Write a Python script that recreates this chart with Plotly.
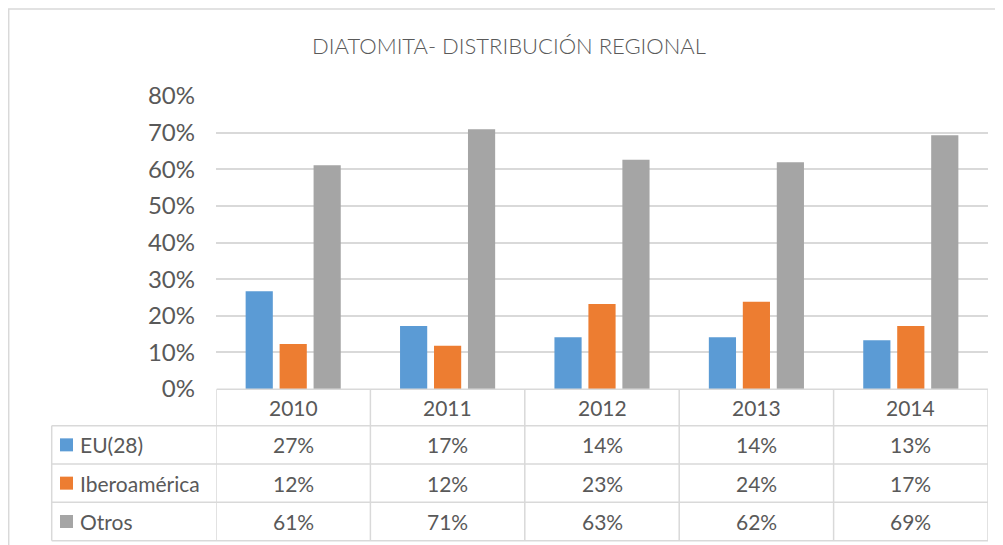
import plotly.graph_objects as go

YEARS = ["2010", "2011", "2012", "2013", "2014"]
SERIES = ["EU(28)", "Iberoamérica", "Otros"]
EU = [0.267, 0.172, 0.141, 0.141, 0.133]
IBERO = [0.123, 0.118, 0.232, 0.238, 0.172]
OTROS = [0.611, 0.709, 0.626, 0.619, 0.693]
COLORS = ["#5B9BD5", "#ED7D31", "#A5A5A5"]
Y_TICKS = [0, 0.1, 0.2, 0.3, 0.4, 0.5, 0.6, 0.7, 0.8]

TEXT = "#595959"
GRID = "#D9D9D9"
FONT = "Lato, 'Open Sans', sans-serif"

# the page body adds an 8px margin, so page coordinates are shifted by OFF
OFF = 8
W, H = 1003, 545
L, R, T, B = 216 - OFF, W - (988 - OFF), 96 - OFF, H - (389 - OFF)
PW, PH = W - L - R, H - T - B


def px(x):
    return (x - OFF - L) / PW


def py(y):
    return (H - B - (y - OFF)) / PH


fig = go.Figure()
for name, vals, col in zip(SERIES, [EU, IBERO, OTROS], COLORS):
    fig.add_trace(go.Bar(x=list(range(len(YEARS))), y=vals, name=name,
                         marker=dict(color=col, line=dict(width=0))))

# data table under the chart
row_tops = [389.3, 425.7, 464.0, 502.3, 540.7]
shapes = []
line = dict(color=GRID, width=1.5)
for i, yy in enumerate(row_tops):
    x0 = px(216.7) if i == 0 else px(51.7)
    shapes.append(dict(type="line", xref="paper", yref="paper",
                       x0=x0, x1=1, y0=py(yy), y1=py(yy), line=line))
shapes.append(dict(type="line", xref="paper", yref="paper", x0=px(51.7), x1=px(51.7),
                   y0=py(row_tops[1]), y1=py(row_tops[-1]), line=line))
for k in range(len(YEARS) + 1):
    shapes.append(dict(type="line", xref="x", yref="paper", x0=k - 0.5, x1=k - 0.5,
                       y0=py(row_tops[0]), y1=py(row_tops[-1]), line=line))
# outer chart border
shapes.append(dict(type="rect", xref="paper", yref="paper", x0=px(8.7), x1=px(1001),
                   y0=py(9), y1=py(570), line=dict(color=GRID, width=1.5)))

cell_font = dict(size=21, color=TEXT, family=FONT)
annotations = []
for k, yr in enumerate(YEARS):
    annotations.append(dict(x=k, xref="x", y=py((row_tops[0] + row_tops[1]) / 2), yref="paper",
                            xanchor="center", yanchor="middle",
                            text=yr, showarrow=False, font=cell_font))
for r, (name, vals, col) in enumerate(zip(SERIES, [EU, IBERO, OTROS], COLORS)):
    yc = (row_tops[r + 1] + row_tops[r + 2]) / 2
    shapes.append(dict(type="rect", xref="paper", yref="paper", x0=px(60), x1=px(73),
                       y0=py(yc + 6.5), y1=py(yc - 6.5), fillcolor=col, line=dict(width=0)))
    annotations.append(dict(x=px(78), xref="paper", y=py(yc), yref="paper",
                            xanchor="left", yanchor="middle",
                            text=name, showarrow=False, font=cell_font))
    for k, v in enumerate(vals):
        annotations.append(dict(x=k, xref="x", y=py(yc), yref="paper",
                                xanchor="center", yanchor="middle",
                                text=f"{round(v * 100):.0f}%", showarrow=False,
                                font=cell_font))

fig.update_layout(
    width=W, height=H,
    margin=dict(l=L, r=R, t=T, b=B),
    paper_bgcolor="white", plot_bgcolor="white",
    barmode="group", bargap=0.34, bargroupgap=0.2,
    showlegend=False,
    title=dict(text="DIATOMITA- DISTRIBUCIÓN REGIONAL", xref="container",
               x=(509 - OFF) / W, xanchor="center",
               yref="container", y=1 - (46 - OFF) / H, yanchor="middle",
               font=dict(size=22, color=TEXT, family="Lato Light, Lato, sans-serif")),
    xaxis=dict(range=[-0.5, len(YEARS) - 0.5], showticklabels=False, showgrid=False,
               zeroline=False, showline=False),
    yaxis=dict(range=[0, 0.8], tickvals=Y_TICKS, tickformat=".0%", showgrid=True,
               gridcolor=GRID, gridwidth=1.5, zeroline=False, showline=False,
               ticklabelstandoff=20,
               tickfont=dict(size=24, color=TEXT, family=FONT)),
    shapes=shapes,
    annotations=annotations,
)

fig.write_html("out.html")
